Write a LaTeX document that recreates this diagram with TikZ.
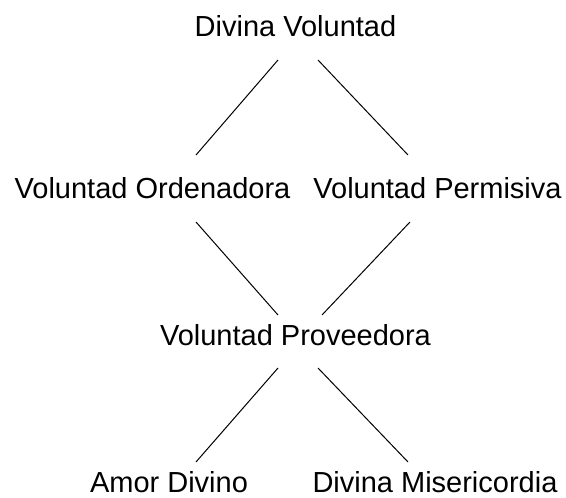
\documentclass[tikz,border=0pt]{standalone}
\usepackage{fontspec}
\setmainfont{Liberation Sans}
\begin{document}
\begin{tikzpicture}[x=1pt,y=1pt,
  lbl/.style={anchor=base,inner sep=0pt,font=\fontsize{29}{34}\selectfont},
  link/.style={draw=black,line width=1pt}]
\useasboundingbox (0,0) rectangle (566,498);
\node[lbl] (dv) at (295.5,461) {Divina Voluntad};
\node[lbl] (vo) at (152.5,299) {Voluntad Ordenadora};
\node[lbl] (vp) at (437.5,299) {Voluntad Permisiva};
\node[lbl] (vpr) at (295.5,152) {Voluntad Proveedora};
\node[lbl] (ad) at (169,5) {Amor Divino};
\node[lbl] (dm) at (435,5) {Divina Misericordia};
\coordinate (dvL) at (278,438); \coordinate (voT) at (196,343);
\coordinate (dvR) at (318,438); \coordinate (vpT) at (408,343);
\coordinate (voB) at (196,276); \coordinate (vprL) at (278,183);
\coordinate (vpB) at (410,276); \coordinate (vprR) at (322,183);
\coordinate (vprBL) at (278,130); \coordinate (adT) at (196,36);
\coordinate (vprBR) at (318,130); \coordinate (dmT) at (408,36);
\draw[link] (dvL) -- (voT);
\draw[link] (dvR) -- (vpT);
\draw[link] (voB) -- (vprL);
\draw[link] (vpB) -- (vprR);
\draw[link] (vprBL) -- (adT);
\draw[link] (vprBR) -- (dmT);
\end{tikzpicture}
\end{document}
